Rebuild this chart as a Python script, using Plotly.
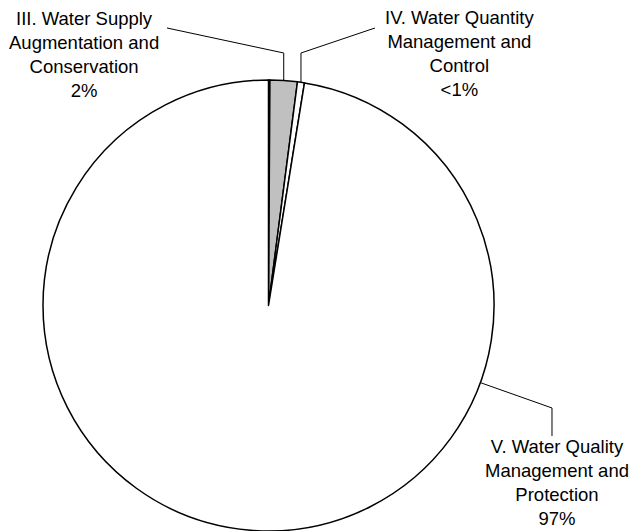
import math
import plotly.graph_objects as go

# Budget shares by program category (percent of total)
categories = [
    "I–II. Other",
    "III. Water Supply Augmentation and Conservation",
    "IV. Water Quantity Management and Control",
    "V. Water Quality Management and Protection",
]
label_lines = [
    None,
    ["III. Water Supply", "Augmentation and", "Conservation"],
    ["IV. Water Quantity", "Management and", "Control"],
    ["V. Water Quality", "Management and", "Protection"],
]
shares = [0.1, 1.95, 0.5, 97.45]
fill_colors = ["#000000", "#c0c0c0", "#ffffff", "#ffffff"]

# Layout constants (pixels)
W, H = 634, 531
CX, CY, R = 268.5, 305.5, 225.5          # pie centre and radius
FONT = "Liberation Sans, Arial, Helvetica, sans-serif"
FONT_SIZE = 18.5

# label block centres and leader-line routing
label_pos = {
    1: dict(x=84, y=55, start=(167, 28), elbow_y=53),
    2: dict(x=460, y=53, start=(375, 28), elbow_y=53),
    3: dict(x=557, y=482, anchor_angle=110, elbow=(552, 408), end=(552, 436)),
}


def pct_text(v):
    return "<1%" if v < 1 else f"{round(v)}%"


def px2paper(x, y):
    return x / W, 1 - y / H


def on_circle(angle_deg):
    a = math.radians(angle_deg)
    return CX + R * math.sin(a), CY - R * math.cos(a)


fig = go.Figure()
fig.add_trace(go.Pie(
    labels=categories,
    values=shares,
    sort=False,
    direction="clockwise",
    rotation=0,
    textinfo="none",
    hoverinfo="label+percent",
    showlegend=False,
    marker=dict(colors=fill_colors, line=dict(color="#000000", width=1.5)),
    domain=dict(
        x=[(CX - R) / W, (CX + R) / W],
        y=[max(0.0, (H - CY - R) / H), (H - CY + R) / H],
    ),
))

total = sum(shares)
cum = 0.0
mid_angles = []
for v in shares:
    mid_angles.append((cum + v / 2) / total * 360.0)
    cum += v

shapes = []
annotations = []
for i, pos in label_pos.items():
    text = "<br>".join(label_lines[i] + [pct_text(shares[i] / total * 100)])
    ax, ay = px2paper(pos["x"], pos["y"])
    annotations.append(dict(
        x=ax, y=ay, xref="paper", yref="paper",
        text=text, showarrow=False, xanchor="center", yanchor="middle",
        align="center", font=dict(family=FONT, size=FONT_SIZE, color="#000000"),
    ))
    if "anchor_angle" in pos:
        p0 = on_circle(pos["anchor_angle"])
        pts = [p0, pos["elbow"], pos["end"]]
    else:
        p_end = on_circle(mid_angles[i])
        pts = [pos["start"], (p_end[0], pos["elbow_y"]), p_end]
    path = "M " + " L ".join(
        "{:.5f},{:.5f}".format(*px2paper(x, y)) for x, y in pts
    )
    shapes.append(dict(type="path", xref="paper", yref="paper", path=path,
                       line=dict(color="#000000", width=1)))

fig.update_layout(
    width=W, height=H,
    margin=dict(l=0, r=0, t=0, b=0),
    paper_bgcolor="#ffffff",
    plot_bgcolor="#ffffff",
    shapes=shapes,
    annotations=annotations,
)

fig.write_html("out.html")
